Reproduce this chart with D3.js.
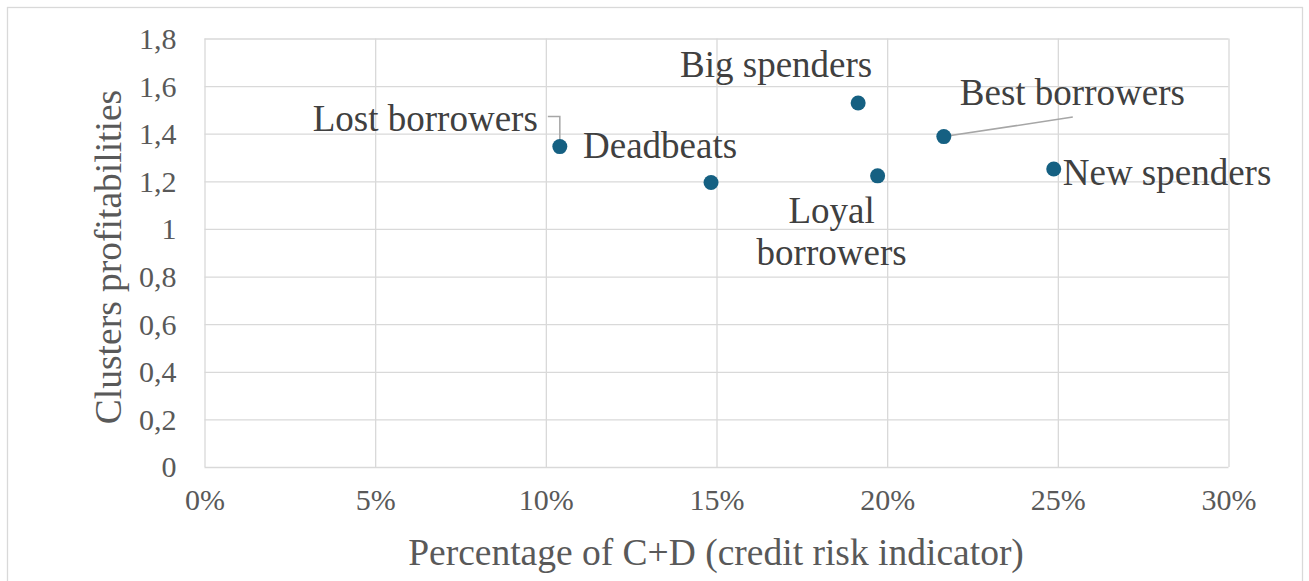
<!DOCTYPE html>
<html>
<head>
<meta charset="utf-8">
<script src="https://cdn.jsdelivr.net/npm/d3@7"></script>
<style>
  html, body { margin: 0; padding: 0; background: #fff; }
  svg { display: block; }
</style>
</head>
<body>
<svg id="chart" width="1309" height="581"></svg>
<script>
// ---- data ----
const clusters = ["Lost borrowers", "Deadbeats", "Big spenders", "Loyal borrowers", "Best borrowers", "New spenders"];
const creditRisk = [0.1041, 0.1484, 0.1915, 0.1972, 0.2166, 0.2488];
const profitability = [1.346, 1.195, 1.529, 1.223, 1.388, 1.252];
const xTicks = [0, 0.05, 0.10, 0.15, 0.20, 0.25, 0.30];
const yTicks = [0, 0.2, 0.4, 0.6, 0.8, 1.0, 1.2, 1.4, 1.6, 1.8];
const xTitle = "Percentage of C+D (credit risk indicator)";
const yTitle = "Clusters profitabilities";

// ---- label layout (pixel offsets from each point) ----
const labelLayout = [
  { lines: ["Lost borrowers"], dx: -22, dy: -16, anchor: "end", leader: [[-12, -30], [0, -30], [0, 0]] },
  { lines: ["Deadbeats"], dx: -128, dy: -25, anchor: "start" },
  { lines: ["Big spenders"], dx: -82, dy: -26, anchor: "middle" },
  { lines: ["Loyal", "borrowers"], dx: -46, dy: 47, anchor: "middle", lh: 42 },
  { lines: ["Best borrowers"], dx: 16, dy: -32, anchor: "start", leader: [[129, -19.5], [0, 0]] },
  { lines: ["New spenders"], dx: 9, dy: 16, anchor: "start" }
];

const FONT = '"Liberation Serif", "Times New Roman", Tinos, serif';
const svg = d3.select("#chart");
const plot = { left: 204.5, right: 1228.5, top: 38.5, bottom: 467 };

// chart outer border
svg.append("rect").attr("x", 7.5).attr("y", 7.5).attr("width", 1295).attr("height", 600)
  .attr("fill", "#fff").attr("stroke", "#d9d9d9").attr("stroke-width", 1.3);

const x = d3.scaleLinear().domain([0, 0.30]).range([plot.left, plot.right]);
const y = d3.scaleLinear().domain([0, 1.8]).range([plot.bottom, plot.top]);

const grid = "#d9d9d9";
svg.append("g").attr("transform", `translate(0,${plot.bottom})`)
  .call(d3.axisBottom(x).tickValues(xTicks).tickSize(-(plot.bottom - plot.top)).tickFormat(""))
  .call(g => g.select(".domain").remove())
  .call(g => g.selectAll("line").attr("stroke", grid).attr("stroke-width", 1.3));
svg.append("g").attr("transform", `translate(${plot.left},0)`)
  .call(d3.axisLeft(y).tickValues(yTicks).tickSize(-(plot.right - plot.left)).tickFormat(""))
  .call(g => g.select(".domain").remove())
  .call(g => g.selectAll("line").attr("stroke", grid).attr("stroke-width", 1.3));

// tick labels
const fmtY = d => d3.format(".1f")(d).replace(".", ",").replace(/,0$/, "");
svg.append("g").attr("transform", `translate(${plot.left},0)`)
  .call(d3.axisLeft(y).tickValues(yTicks).tickSize(0).tickPadding(28).tickFormat(fmtY))
  .call(g => g.select(".domain").remove())
  .call(g => g.selectAll("text").attr("fill", "#595959").style("font-size", "30px")
    .style("font-family", FONT).attr("dy", "0.33em"));

svg.append("g").attr("transform", `translate(0,${plot.bottom})`)
  .call(d3.axisBottom(x).tickValues(xTicks).tickSize(0).tickPadding(22).tickFormat(d3.format(".0%")))
  .call(g => g.select(".domain").remove())
  .call(g => g.selectAll("text").attr("fill", "#595959").style("font-size", "30px")
    .style("font-family", FONT));

// axis titles
svg.append("text").attr("x", 716).attr("y", 565)
  .attr("text-anchor", "middle").attr("fill", "#595959")
  .style("font-size", "37.5px").style("font-family", FONT).text(xTitle);
svg.append("text").attr("transform", "translate(121,257) rotate(-90)")
  .attr("text-anchor", "middle").attr("fill", "#595959")
  .style("font-size", "37.5px").style("font-family", FONT).text(yTitle);

// points + labels
const pts = clusters.map((c, i) => ({ name: c, x: x(creditRisk[i]), y: y(profitability[i]), lay: labelLayout[i] }));

const leaderG = svg.append("g");
pts.forEach(p => {
  if (p.lay.leader) {
    leaderG.append("path")
      .attr("d", d3.line()(p.lay.leader.map(([dx, dy]) => [p.x + dx, p.y + dy])))
      .attr("fill", "none").attr("stroke", "#a6a6a6").attr("stroke-width", 1.5);
  }
});

svg.append("g").selectAll("circle").data(pts).join("circle")
  .attr("cx", d => d.x).attr("cy", d => d.y).attr("r", 7.5).attr("fill", "#156082");

const lab = svg.append("g").selectAll("text").data(pts).join("text")
  .attr("x", d => d.x + d.lay.dx).attr("y", d => d.y + d.lay.dy)
  .attr("text-anchor", d => d.lay.anchor).attr("fill", "#404040")
  .style("font-size", "37px").style("font-family", FONT);
lab.each(function (d) {
  const t = d3.select(this);
  d.lay.lines.forEach((ln, k) => {
    t.append("tspan").attr("x", d.x + d.lay.dx).attr("dy", k === 0 ? 0 : (d.lay.lh || 42)).text(ln);
  });
});
</script>
</body>
</html>
